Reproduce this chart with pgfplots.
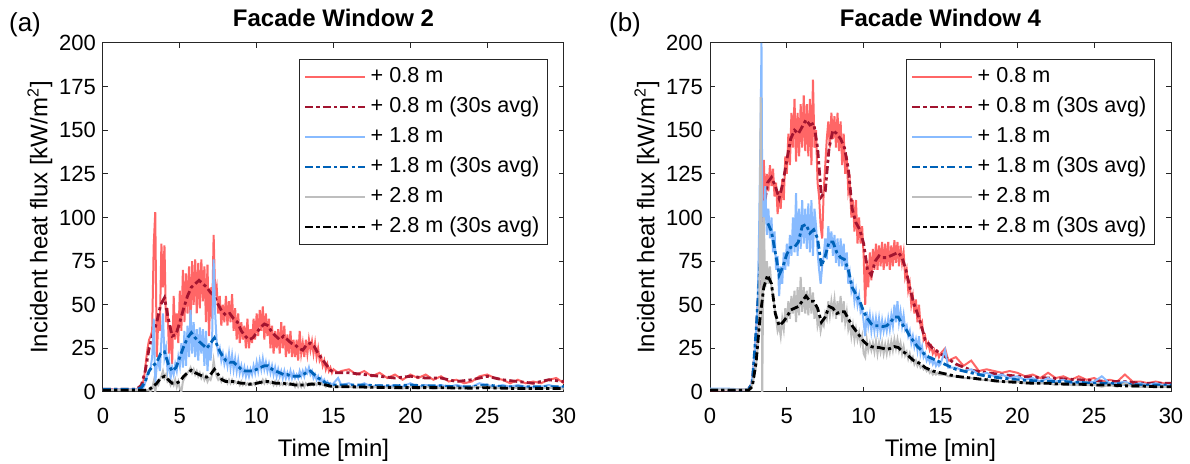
\documentclass[border=0pt]{standalone}
\usepackage{fontspec}
\setmainfont{Liberation Sans}
\usepackage{pgfplots}
\usepackage{pgfplotstable}
\pgfplotsset{compat=1.18}
\definecolor{axisgray}{RGB}{38,38,38}
\definecolor{rawred}{RGB}{255,102,102}
\definecolor{avgred}{RGB}{162,20,47}
\definecolor{rawblue}{RGB}{136,187,255}
\definecolor{avgblue}{RGB}{0,98,184}
\definecolor{rawgray}{RGB}{190,190,190}

\pgfplotstableread{
t r08 r18 r28
0 1.5 1.5 1
0.5 1.6 1.4 1
1 1.5 1.5 1
1.5 1.6 1.4 1
2 1.5 1.5 1
2.3 1.7 1.5 1
2.5 3 1.5 1
2.6 5 2 1
2.7 10 4 1
2.8 18 7 1
2.9 25 10 1
3.0 30 12 1
3.1 32 14 0.5
3.2 35 20 2
3.3 84 42 6
3.4 103 5 0
3.5 20 15 5
3.6 42 18 4
3.7 35 12 7
3.8 85 30 9
3.9 60 45 12
4.0 84 20 8
4.1 40 25 10
4.2 48 12 6
4.3 22 18 7
4.4 38 8 4
4.5 16 14 6
4.6 55 10 4
4.7 30 16 7
4.8 45 12 3
4.9 28 20 6
5.0 58 15 2
5.1 35 28 0
5.2 70 14 6
5.3 40 35 8
5.4 68 15 9
5.5 45 38 11
5.6 72 20 12
5.7 38 47 14
5.8 75 22 11
5.9 50 40 13
6.0 76 20 10
6.1 45 36 12
6.2 74 18 9
6.3 48 37 11
6.4 76 22 8
6.5 52 36 10
6.6 72 15 7
6.7 40 35 9
6.8 73 12 6
6.9 32 28 8
7.0 60 18 7
7.1 42 30 10
7.2 90 76 18
7.3 55 45 12
7.4 60 28 9
7.5 45 22 7
7.6 55 25 8
7.7 38 18 6
7.8 50 22 8
7.9 40 16 6
8.0 55 20 7
8.1 38 15 5
8.2 52 22 7
8.3 40 14 5
8.4 56 21 7
8.5 35 13 5
8.6 48 19 6
8.7 30 12 5
8.8 45 18 6
8.9 28 11 4
9.0 40 15 6
9.1 30 10 4
9.2 38 14 5
9.3 25 9 4
9.4 42 13 5
9.5 25 9 4
9.6 36 13 5
9.7 28 10 4
9.8 42 15 5
9.9 30 11 4
10.0 45 17 6
10.1 32 12 5
10.2 47 18 6
10.3 35 13 5
10.4 49 19 7
10.5 30 13 5
10.6 45 17 7
10.7 32 12 5
10.8 42 16 6
10.9 25 11 5
11.0 38 15 6
11.1 22 10 4
11.2 35 14 6
11.3 25 9 4
11.4 36 13 6
11.5 22 9 4
11.6 40 12 5
11.7 25 8 4
11.8 38 12 5
11.9 20 8 4
12.0 33 11 5
12.1 22 8 4
12.2 35 12 5
12.3 20 8 4
12.4 30 11 5
12.5 20 8 3
12.6 30 10 5
12.7 18 8 3
12.8 35 12 5
12.9 22 9 3
13.0 28 12 5
13.1 20 9 3
13.2 30 13 5
13.3 22 11 4
13.4 30 14 5
13.5 24 10 4
13.6 29 12 5
13.7 22 8 4
13.8 28 10 5
13.9 20 7 4
14.0 25 9 5
14.1 18 6 4
14.2 20 8 5
14.3 15 5 4
14.4 18 7 4
14.5 13 5 3
14.6 16 6 4
14.7 12 4 3
14.8 14 5 3
14.9 11 4 3
15.0 13 5 3
15.3 11 8 3
15.5 12 4 3
16 13 5 3
16.5 10 3 2.5
17 12 5 3
17.5 9 3 2.5
18 11 4 3
18.5 8 3 2.5
19 10 4 2.5
19.5 7 3 2
20 10 5 3
20.5 8 3 2
21 10 4 3
21.5 7 3 2
22 9 4 2.5
22.5 6 3 2
23 7 4 2.5
23.5 5 3 2
24 6 3 2.5
24.5 9 5 3
25 10 4 3
25.5 8 3 2
26 7 4 2.5
26.5 5 3 2
27 7 4 2.5
27.5 5 3 2
28 6 3 2
28.5 5 3 2
29 7 4 2.5
29.5 8 3 2
30 5 3 2
}\rawA

\pgfplotstableread{
t a08 a18 a28
0 1.5 1.5 1
1 1.5 1.5 1
2 1.5 1.5 1
2.25 2 1.8 1
2.5 4 2.5 1
2.75 12 6 1
3.0 25 12 1.5
3.25 33 15 3
3.5 40 17 5
3.75 50 22 8
4.0 54 23 9
4.25 42 16 7
4.5 32 12 5
4.75 33 14 5
5.0 40 20 6
5.25 48 26 9
5.5 55 31 11
5.75 60 34 12.5
6.0 62 31 11
6.25 64 29 10
6.5 62 27 9
6.75 60 25 8.5
7.0 57 28 10
7.25 55 31 13
7.5 50 25 10
7.75 46 21 7
8.0 44 18 6
8.25 45 17 6
8.5 42 17 6
8.75 40 15 5.5
9.0 35 13 5
9.25 32 12 5
9.5 30 12 4.5
9.75 31 12 4.5
10.0 34 13 5
10.25 37 14 5.5
10.5 39 15 6
10.75 38 15 6
11.0 34 13 5.5
11.25 32 12 5
11.5 30 11 5
11.75 32 10 5
12.0 30 10 4.5
12.25 28 9 4.5
12.5 27 9 4
12.75 25 9 4
13.0 24 10 4
13.25 27 11 4
13.5 28 12 4.5
13.75 26 10 4.5
14.0 22 8 5
14.25 19 7 4.5
14.5 16 5 4
14.75 13 4.5 3.5
15.0 11 4 3
16 11 4 3
17 10 4 2.8
18 9 3.5 2.6
19 8 3.5 2.5
20 9 4 2.5
21 8 3.5 2.5
22 8 3.5 2.5
23 6 3 2.3
24 7 3 2.2
25 9 4 2.5
26 7 3 2.2
27 6 3 2
28 5 3 2
29 7 3 2
30 6 3 2
}\avgA

\pgfplotstableread{
t r08 r18 r28
0 1.5 2 1.5
1 1.5 2 1.5
2 1.5 1.5 1.5
2.5 1.5 1.5 1.5
2.6 2 2 1.5
2.7 5 5 3
2.8 12 12 6
2.9 22 22 10
3.0 35 35 15
3.1 50 50 25
3.2 65 95 40
3.3 80 158 169
3.35 85 200 100
3.4 90 110 0
3.5 133 95 100
3.6 108 118 60
3.7 125 90 75
3.8 115 105 62
3.9 130 88 72
4.0 118 100 60
4.1 128 80 55
4.2 112 92 48
4.3 120 70 42
4.4 102 78 35
4.5 115 55 38
4.6 105 72 32
4.7 122 62 42
4.8 110 80 36
4.9 135 70 48
5.0 125 85 40
5.1 148 72 52
5.2 130 90 42
5.3 160 78 55
5.4 140 100 45
5.5 168 80 58
5.6 132 114 40
5.7 160 78 60
5.8 135 105 44
5.9 165 82 66
6.0 140 110 46
6.1 170 85 60
6.2 138 105 45
6.3 165 82 58
6.4 135 108 44
6.5 168 80 60
6.6 130 110 45
6.7 179 78 57
6.8 140 105 42
6.9 150 95 50
7.0 120 80 38
7.1 112 70 42
7.2 95 62 35
7.3 88 72 40
7.4 115 78 38
7.5 130 88 45
7.6 145 76 42
7.7 155 95 52
7.8 140 82 44
7.9 160 92 52
8.0 145 78 46
8.1 158 90 53
8.2 140 74 42
8.3 160 88 52
8.4 138 72 44
8.5 155 88 55
8.6 130 72 40
8.7 148 85 52
8.8 125 70 40
8.9 135 80 46
9.0 115 62 36
9.1 120 68 40
9.2 100 58 32
9.3 110 62 38
9.4 92 52 30
9.5 110 58 36
9.6 85 50 30
9.7 100 55 34
9.8 85 46 28
9.9 95 48 32
10.0 78 40 22
10.1 50 32 20
10.2 75 46 30
10.3 60 38 24
10.4 80 44 28
10.5 64 35 24
10.6 82 42 28
10.7 70 35 23
10.8 85 42 29
10.9 70 35 22
11.0 84 42 28
11.1 72 34 23
11.2 86 41 28
11.3 70 35 22
11.4 85 40 27
11.5 72 35 22
11.6 86 42 28
11.7 70 36 23
11.8 84 44 29
11.9 72 38 24
12.0 87 50 30
12.1 74 40 25
12.2 86 52 30
12.3 72 40 24
12.4 84 46 28
12.5 74 38 22
12.6 80 44 26
12.7 66 36 21
12.8 70 38 23
12.9 58 32 19
13.0 62 35 22
13.1 50 28 18
13.2 55 32 20
13.3 45 26 16
13.4 53 30 18
13.5 40 24 15
13.6 50 32 17
13.7 38 22 14
13.8 40 26 15
13.9 30 20 13
14.0 32 22 14
14.1 26 18 12
14.2 28 20 13
14.3 24 17 11
14.4 26 19 12
14.5 22 16 10
14.6 24 18 11
14.7 21 15 10
14.8 23 17 11
14.9 20 15 10
15.0 22 16 10
15.3 25 24 10
15.5 18 14 9
16 20 14 9
16.5 15 12 8
17 18 13 8
17.5 12 10 7
18 13 11 7
18.5 12 9 6
19 11 10 6
19.5 12 8 6
20 11 9 6
20.5 9 7 5
21 10 8 5
21.5 8 6 5
22 11 8 5
22.5 8 6 4
23 9 7 5
23.5 7 5 4
24 9 6 4
24.5 7 5 4
25 8 6 4
25.5 6 9 3
26 7 5 4
26.5 6 5 3
27 10 6 5
27.5 6 4 3
28 6 5 3
28.5 5 4 3
29 6 5 3
29.5 5 4 3
30 5 4 3
}\rawB

\pgfplotstableread{
t a08 a18 a28
0 1 1.5 1
2 1 1 1
2.5 1.5 1.5 1
2.75 5 5 3
3.0 30 35 17
3.25 70 72 42
3.5 105 97 60
3.75 120 97 67
4.0 123 92 62
4.25 118 80 45
4.5 111 67 38
4.75 120 72 40
5.0 133 79 43
5.25 145 83 47
5.5 150 83 48
5.75 148 86 49
6.0 152 95 52
6.25 156 96 55
6.5 153 91 52
6.75 154 93 52
7.0 140 88 48
7.25 112 72 40
7.5 115 78 43
7.75 140 86 49
8.0 150 86 48
8.25 148 80 45
8.5 145 77 46
8.75 140 76 46
9.0 128 70 42
9.25 105 60 38
9.5 97 56 35
9.75 93 52 32
10.0 85 46 29
10.25 70 42 27
10.5 67 39 26
10.75 75 38 25.5
11.0 78 38 25.5
11.25 77 37.5 25
11.5 77 38 24.5
11.75 78 40 25
12.0 79 43 26
12.25 80 43 25.5
12.5 77 39 23.5
12.75 70 36 22
13.0 60 32 20
13.25 51 29 18
13.5 45 26 17
13.75 38 24 16
14.0 30 21 14
14.5 25 19 12
15.0 22 17 11
15.5 19 15 10
16.0 16 13 9
17 12.5 11 8
18 11 9 7
19 10 8 6
20 9 7 5.5
21 8.5 6.5 5
22 8 6 5
23 7.5 6 4.5
24 7 5.5 4.5
25 6.5 5 4
26 6 5 4
27 6 4.5 3.5
28 5 4 3.5
29 5 4 3
30 5 4 3
}\avgB

\pgfplotsset{
  facade/.style={
    width=230.5pt, height=174.5pt, scale only axis,
    xmin=0, xmax=30, ymin=0, ymax=200,
    xtick={0,5,...,30}, ytick={0,25,...,200},
    tick align=inside, major tick length=2.5pt,
    axis line style={draw=axisgray, line width=0.5pt},
    every tick/.style={draw=axisgray, line width=0.5pt},
    ticklabel style={font=\fontsize{11}{13}\selectfont},
    xticklabel style={yshift=-4.5pt},
    /pgf/number format/assume math mode=true,
    label style={font=\fontsize{12}{14}\selectfont},
    title style={font=\bfseries\fontsize{12}{14}\selectfont, anchor=center, yshift=6.5pt},
    xlabel={Time [min]},
    ylabel={Incident heat flux [kW/m\textsuperscript{2}]},
    xlabel style={at={(axis description cs:0.5,-0.166)}, anchor=center},
    ylabel style={at={(axis description cs:-0.137,0.5)}, anchor=center},
    legend cell align=left,
    legend style={at={(axis description cs:0.965,0.954)}, anchor=north east,
      draw=axisgray, line width=0.5pt, font=\fontsize{10.8}{12}\selectfont,
      inner xsep=2pt, inner ysep=1.2pt, row sep=0pt,
      nodes={inner xsep=2pt, inner ysep=2.2pt, text height=8pt, text depth=2.6pt}},
    legend image code/.code={\draw[##1] (0pt,0pt) -- (30pt,0pt);},
    raw/.style={line width=1pt},
    avg/.style={line width=1.4pt, dash pattern=on 4pt off 1.6pt on 1.6pt off 1.6pt},
  }
}

\begin{document}
\begin{tikzpicture}
\path[use as bounding box] (0,0) rectangle (595pt,232pt);
\begin{axis}[facade, at={(51.5pt,36pt)}, anchor=south west, title={Facade Window 2}]
\addplot[raw, color=rawred] table[x=t, y=r08] {\rawA};
\addlegendentry{+ 0.8 m}
\addplot[avg, color=avgred] table[x=t, y=a08] {\avgA};
\addlegendentry{+ 0.8 m (30s avg)}
\addplot[raw, color=rawblue] table[x=t, y=r18] {\rawA};
\addlegendentry{+ 1.8 m}
\addplot[avg, color=avgblue] table[x=t, y=a18] {\avgA};
\addlegendentry{+ 1.8 m (30s avg)}
\addplot[raw, color=rawgray] table[x=t, y=r28] {\rawA};
\addlegendentry{+ 2.8 m}
\addplot[avg, color=black] table[x=t, y=a28] {\avgA};
\addlegendentry{+ 2.8 m (30s avg)}
\end{axis}
\begin{axis}[facade, at={(355pt,36pt)}, anchor=south west, title={Facade Window 4}]
\addplot[raw, color=rawred] table[x=t, y=r08] {\rawB};
\addlegendentry{+ 0.8 m}
\addplot[avg, color=avgred] table[x=t, y=a08] {\avgB};
\addlegendentry{+ 0.8 m (30s avg)}
\addplot[raw, color=rawblue] table[x=t, y=r18] {\rawB};
\addlegendentry{+ 1.8 m}
\addplot[avg, color=avgblue] table[x=t, y=a18] {\avgB};
\addlegendentry{+ 1.8 m (30s avg)}
\addplot[raw, color=rawgray] table[x=t, y=r28] {\rawB};
\addlegendentry{+ 2.8 m}
\addplot[avg, color=black] table[x=t, y=a28] {\avgB};
\addlegendentry{+ 2.8 m (30s avg)}
\end{axis}
\node[font=\fontsize{13}{15}\selectfont] at (12.5pt,219.5pt) {(a)};
\node[font=\fontsize{13}{15}\selectfont] at (312.5pt,219.5pt) {(b)};
\end{tikzpicture}
\end{document}
